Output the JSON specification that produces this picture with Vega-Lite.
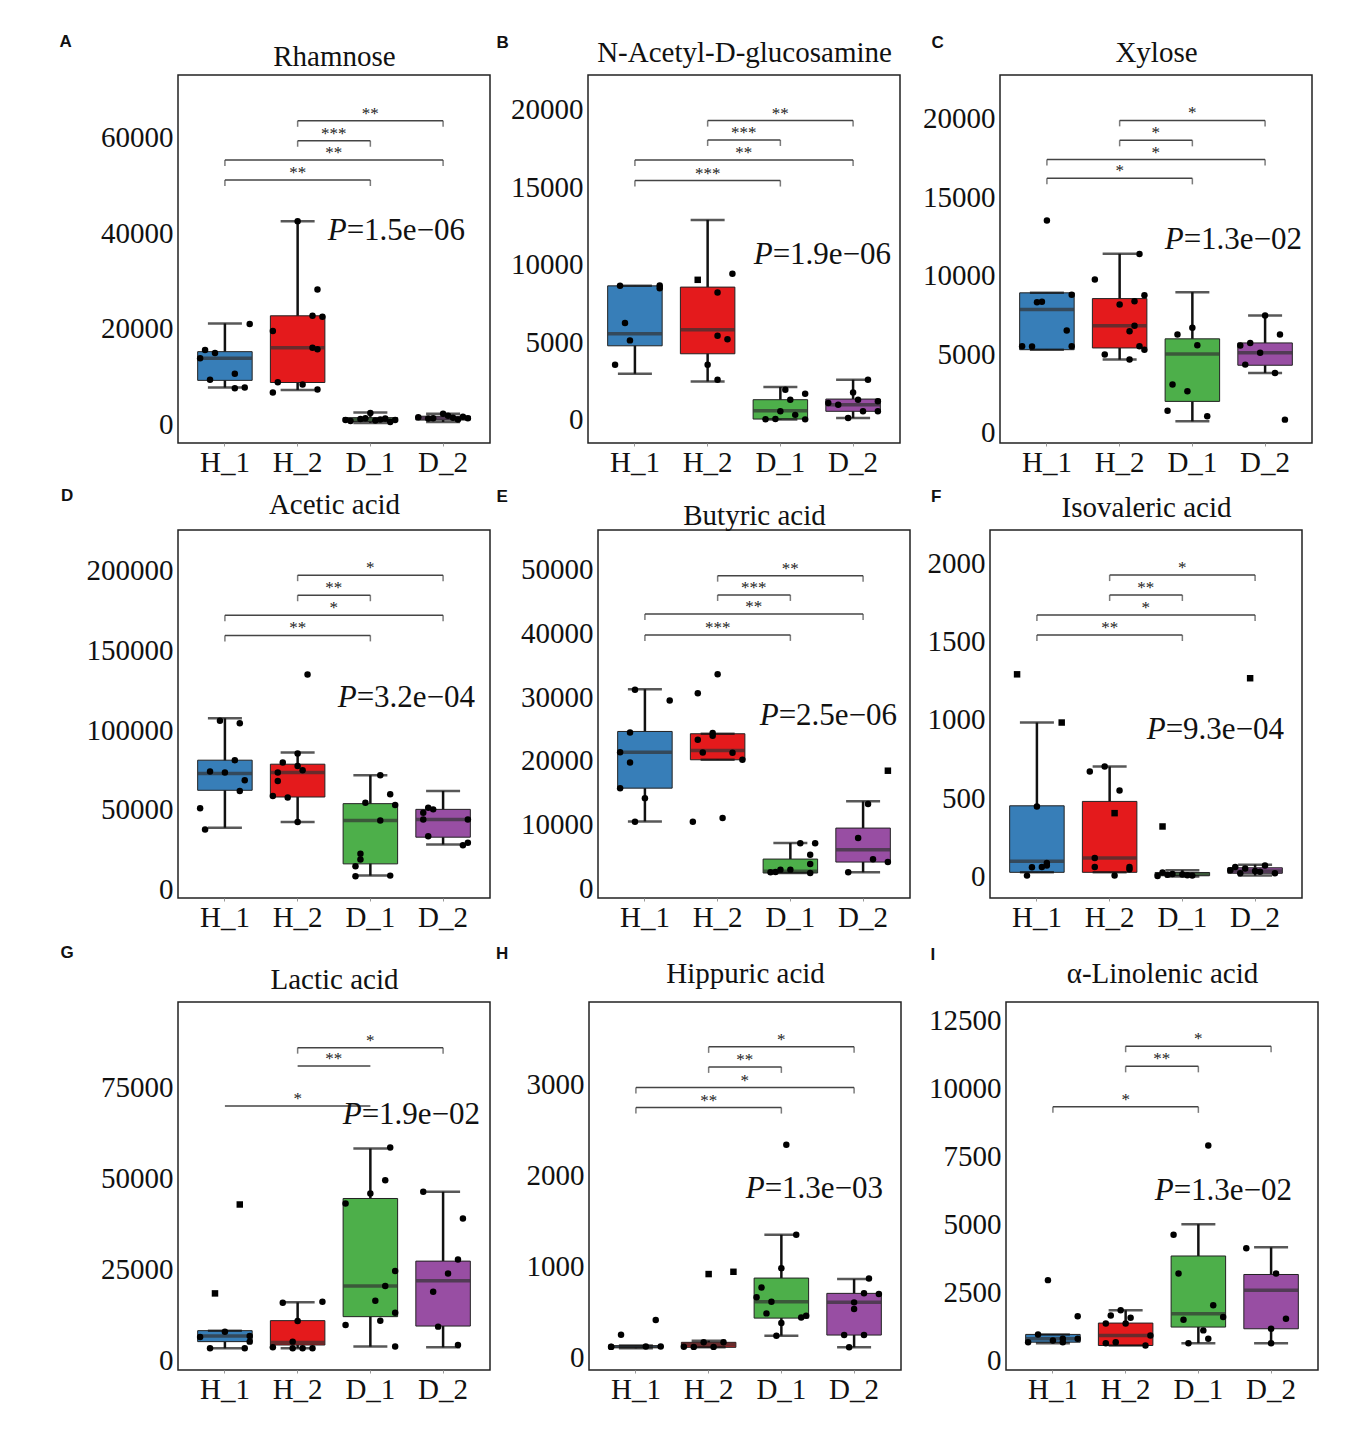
{
"$schema":"https://vega.github.io/schema/vega-lite/v6.json",
"padding":{"left":58,"top":32,"right":5,"bottom":5},
"background":"white",
"datasets":{
"box":[
{"p":"A","g":"H_1","lo":7700,"q1":9200,"md":13800,"q3":15200,"hi":21100},
{"p":"A","g":"H_2","lo":7200,"q1":8750,"md":16000,"q3":22700,"hi":42500},
{"p":"A","g":"D_1","lo":300,"q1":600,"md":1000,"q3":1400,"hi":2500},
{"p":"A","g":"D_2","lo":500,"q1":900,"md":1250,"q3":1700,"hi":2200},
{"p":"B","g":"H_1","lo":2955,"q1":4760,"md":5535,"q3":8630,"hi":8630},
{"p":"B","g":"H_2","lo":2460,"q1":4245,"md":5795,"q3":8550,"hi":12890},
{"p":"B","g":"D_1","lo":0,"q1":30,"md":570,"q3":1280,"hi":2100},
{"p":"B","g":"D_2","lo":100,"q1":530,"md":955,"q3":1320,"hi":2570},
{"p":"C","g":"H_1","lo":5300,"q1":5300,"md":7850,"q3":8917,"hi":8917},
{"p":"C","g":"H_2","lo":4670,"q1":5410,"md":6830,"q3":8550,"hi":11400},
{"p":"C","g":"D_1","lo":740,"q1":2010,"md":5030,"q3":5990,"hi":8960},
{"p":"C","g":"D_2","lo":3820,"q1":4310,"md":5100,"q3":5730,"hi":7470},
{"p":"D","g":"H_1","lo":38840,"q1":62320,"md":72830,"q3":81210,"hi":107460},
{"p":"D","g":"H_2","lo":42370,"q1":58110,"md":73460,"q3":78690,"hi":86050},
{"p":"D","g":"D_1","lo":8810,"q1":16180,"md":43440,"q3":53950,"hi":71770},
{"p":"D","g":"D_2","lo":28330,"q1":32920,"md":44070,"q3":50360,"hi":61880},
{"p":"E","g":"H_1","lo":10470,"q1":15700,"md":21360,"q3":24610,"hi":31250},
{"p":"E","g":"H_2","lo":20160,"q1":20160,"md":21620,"q3":24250,"hi":24250},
{"p":"E","g":"D_1","lo":2360,"q1":2360,"md":2620,"q3":4550,"hi":7070},
{"p":"E","g":"D_2","lo":2470,"q1":4080,"md":6030,"q3":9420,"hi":13620},
{"p":"F","g":"H_1","lo":26,"q1":26,"md":96,"q3":451,"hi":983},
{"p":"F","g":"H_2","lo":26,"q1":26,"md":117,"q3":479,"hi":702},
{"p":"F","g":"D_1","lo":0,"q1":5,"md":12,"q3":25,"hi":40},
{"p":"F","g":"D_2","lo":5,"q1":20,"md":35,"q3":55,"hi":75},
{"p":"G","g":"H_1","lo":3220,"q1":5060,"md":6600,"q3":8085,"hi":8085},
{"p":"G","g":"H_2","lo":3220,"q1":4130,"md":4790,"q3":10840,"hi":15870},
{"p":"G","g":"D_1","lo":3690,"q1":11940,"md":20350,"q3":44470,"hi":58220},
{"p":"G","g":"D_2","lo":3490,"q1":9350,"md":21840,"q3":27230,"hi":46310},
{"p":"H","g":"H_1","lo":100,"q1":110,"md":117,"q3":128,"hi":130},
{"p":"H","g":"H_2","lo":110,"q1":110,"md":139,"q3":165,"hi":183},
{"p":"H","g":"D_1","lo":238,"q1":431,"md":611,"q3":871,"hi":1347},
{"p":"H","g":"D_2","lo":110,"q1":245,"md":604,"q3":703,"hi":860},
{"p":"I","g":"H_1","lo":639,"q1":676,"md":798,"q3":961,"hi":961},
{"p":"I","g":"H_2","lo":554,"q1":554,"md":924,"q3":1378,"hi":1848},
{"p":"I","g":"D_1","lo":639,"q1":1231,"md":1722,"q3":3843,"hi":5011},
{"p":"I","g":"D_2","lo":639,"q1":1168,"md":2587,"q3":3163,"hi":4161}
],
"pts":[
{"p":"A","g":"H_1","i":1,"v":13800},{"p":"A","g":"H_1","i":2,"v":15560},{"p":"A","g":"H_1","i":3,"v":9310},{"p":"A","g":"H_1","i":4,"v":14900},{"p":"A","g":"H_1","i":8,"v":10560},{"p":"A","g":"H_1","i":8,"v":7570},{"p":"A","g":"H_1","i":10,"v":7710},{"p":"A","g":"H_1","i":11,"v":20970},
{"p":"A","g":"H_2","i":1,"v":19510},{"p":"A","g":"H_2","i":1,"v":6670},{"p":"A","g":"H_2","i":2,"v":8800},{"p":"A","g":"H_2","i":6,"v":42500},{"p":"A","g":"H_2","i":7,"v":8330},{"p":"A","g":"H_2","i":9,"v":16040},{"p":"A","g":"H_2","i":9,"v":22700},{"p":"A","g":"H_2","i":10,"v":28190},{"p":"A","g":"H_2","i":10,"v":15700},{"p":"A","g":"H_2","i":10,"v":7290},{"p":"A","g":"H_2","i":11,"v":22500},
{"p":"A","g":"D_1","i":1,"v":900},{"p":"A","g":"D_1","i":2,"v":700},{"p":"A","g":"D_1","i":4,"v":1100},{"p":"A","g":"D_1","i":5,"v":1300},{"p":"A","g":"D_1","i":6,"v":2400},{"p":"A","g":"D_1","i":7,"v":800},{"p":"A","g":"D_1","i":8,"v":1000},{"p":"A","g":"D_1","i":9,"v":1200},{"p":"A","g":"D_1","i":10,"v":500},{"p":"A","g":"D_1","i":11,"v":900},
{"p":"A","g":"D_2","i":1,"v":1500},{"p":"A","g":"D_2","i":3,"v":1200},{"p":"A","g":"D_2","i":4,"v":1300},{"p":"A","g":"D_2","i":6,"v":2200},{"p":"A","g":"D_2","i":7,"v":1800},{"p":"A","g":"D_2","i":8,"v":1400},{"p":"A","g":"D_2","i":9,"v":1000},{"p":"A","g":"D_2","i":10,"v":1600},{"p":"A","g":"D_2","i":11,"v":1300},
{"p":"B","g":"H_1","i":2,"v":3535},{"p":"B","g":"H_1","i":3,"v":8630},{"p":"B","g":"H_1","i":4,"v":6225},{"p":"B","g":"H_1","i":5,"v":5110},{"p":"B","g":"H_1","i":11,"v":8480},{"p":"B","g":"H_1","i":11,"v":8650},
{"p":"B","g":"H_2","i":4,"v":9020,"o":1},{"p":"B","g":"H_2","i":6,"v":3535},{"p":"B","g":"H_2","i":8,"v":8205},{"p":"B","g":"H_2","i":8,"v":5405},{"p":"B","g":"H_2","i":8,"v":2570},{"p":"B","g":"H_2","i":10,"v":5190},{"p":"B","g":"H_2","i":11,"v":9405},
{"p":"B","g":"D_1","i":3,"v":20},{"p":"B","g":"D_1","i":5,"v":30},{"p":"B","g":"D_1","i":6,"v":535},{"p":"B","g":"D_1","i":7,"v":1920},{"p":"B","g":"D_1","i":8,"v":1280},{"p":"B","g":"D_1","i":9,"v":300},{"p":"B","g":"D_1","i":11,"v":1660},{"p":"B","g":"D_1","i":11,"v":10},
{"p":"B","g":"D_2","i":1,"v":1070},{"p":"B","g":"D_2","i":3,"v":955},{"p":"B","g":"D_2","i":5,"v":100},{"p":"B","g":"D_2","i":6,"v":1750},{"p":"B","g":"D_2","i":7,"v":1280},{"p":"B","g":"D_2","i":8,"v":530},{"p":"B","g":"D_2","i":9,"v":2570},{"p":"B","g":"D_2","i":11,"v":1180},{"p":"B","g":"D_2","i":11,"v":530},
{"p":"C","g":"H_1","i":1,"v":5520},{"p":"C","g":"H_1","i":3,"v":5500},{"p":"C","g":"H_1","i":4,"v":8320},{"p":"C","g":"H_1","i":5,"v":8350},{"p":"C","g":"H_1","i":6,"v":13520},{"p":"C","g":"H_1","i":10,"v":6520},{"p":"C","g":"H_1","i":11,"v":5520},{"p":"C","g":"H_1","i":11,"v":8800},
{"p":"C","g":"H_2","i":1,"v":9770},{"p":"C","g":"H_2","i":3,"v":4990},{"p":"C","g":"H_2","i":6,"v":8180},{"p":"C","g":"H_2","i":8,"v":6470},{"p":"C","g":"H_2","i":8,"v":4670},{"p":"C","g":"H_2","i":9,"v":6830},{"p":"C","g":"H_2","i":9,"v":8380},{"p":"C","g":"H_2","i":10,"v":5520},{"p":"C","g":"H_2","i":10,"v":11390},{"p":"C","g":"H_2","i":11,"v":5300},{"p":"C","g":"H_2","i":11,"v":8770},
{"p":"C","g":"D_1","i":1,"v":1420},{"p":"C","g":"D_1","i":2,"v":3080},{"p":"C","g":"D_1","i":3,"v":6270},{"p":"C","g":"D_1","i":5,"v":2660},{"p":"C","g":"D_1","i":6,"v":6690},{"p":"C","g":"D_1","i":7,"v":5580},{"p":"C","g":"D_1","i":9,"v":1060},
{"p":"C","g":"D_2","i":1,"v":5560},{"p":"C","g":"D_2","i":2,"v":4350},{"p":"C","g":"D_2","i":3,"v":5730},{"p":"C","g":"D_2","i":5,"v":5100},{"p":"C","g":"D_2","i":6,"v":7470},{"p":"C","g":"D_2","i":8,"v":3820},{"p":"C","g":"D_2","i":9,"v":6270},{"p":"C","g":"D_2","i":10,"v":850},
{"p":"D","g":"H_1","i":1,"v":50990},{"p":"D","g":"H_1","i":2,"v":37770},{"p":"D","g":"H_1","i":3,"v":74100},{"p":"D","g":"H_1","i":5,"v":105960},{"p":"D","g":"H_1","i":6,"v":73460},{"p":"D","g":"H_1","i":8,"v":81210},{"p":"D","g":"H_1","i":9,"v":104310},{"p":"D","g":"H_1","i":9,"v":61880},{"p":"D","g":"H_1","i":10,"v":68620},
{"p":"D","g":"H_2","i":1,"v":58740},{"p":"D","g":"H_2","i":2,"v":73460},{"p":"D","g":"H_2","i":2,"v":68180},{"p":"D","g":"H_2","i":3,"v":79760},{"p":"D","g":"H_2","i":4,"v":57730},{"p":"D","g":"H_2","i":6,"v":42370},{"p":"D","g":"H_2","i":6,"v":85430},{"p":"D","g":"H_2","i":6,"v":77620},{"p":"D","g":"H_2","i":7,"v":74910},{"p":"D","g":"H_2","i":8,"v":134910},
{"p":"D","g":"D_1","i":3,"v":14670},{"p":"D","g":"D_1","i":3,"v":8370},{"p":"D","g":"D_1","i":4,"v":22470},{"p":"D","g":"D_1","i":4,"v":18890},{"p":"D","g":"D_1","i":5,"v":54580},{"p":"D","g":"D_1","i":8,"v":43440},{"p":"D","g":"D_1","i":8,"v":71770},{"p":"D","g":"D_1","i":10,"v":59800},{"p":"D","g":"D_1","i":10,"v":8810},{"p":"D","g":"D_1","i":11,"v":53070},
{"p":"D","g":"D_2","i":2,"v":44070},{"p":"D","g":"D_2","i":2,"v":48280},{"p":"D","g":"D_2","i":3,"v":33550},{"p":"D","g":"D_2","i":3,"v":51430},{"p":"D","g":"D_2","i":4,"v":50360},{"p":"D","g":"D_2","i":10,"v":27890},{"p":"D","g":"D_2","i":11,"v":44070},{"p":"D","g":"D_2","i":11,"v":29400},
{"p":"E","g":"H_1","i":1,"v":15700},{"p":"E","g":"H_1","i":1,"v":21360},{"p":"E","g":"H_1","i":3,"v":24450},{"p":"E","g":"H_1","i":3,"v":19740},{"p":"E","g":"H_1","i":4,"v":31160},{"p":"E","g":"H_1","i":4,"v":10410},{"p":"E","g":"H_1","i":6,"v":14130},{"p":"E","g":"H_1","i":11,"v":29480},
{"p":"E","g":"H_2","i":1,"v":10410},{"p":"E","g":"H_2","i":2,"v":30620},{"p":"E","g":"H_2","i":2,"v":23300},{"p":"E","g":"H_2","i":3,"v":21310},{"p":"E","g":"H_2","i":5,"v":23930},{"p":"E","g":"H_2","i":5,"v":24380},{"p":"E","g":"H_2","i":6,"v":33600},{"p":"E","g":"H_2","i":7,"v":10990},{"p":"E","g":"H_2","i":9,"v":21260},{"p":"E","g":"H_2","i":11,"v":20160},
{"p":"E","g":"D_1","i":2,"v":2470},{"p":"E","g":"D_1","i":3,"v":2520},{"p":"E","g":"D_1","i":4,"v":2890},{"p":"E","g":"D_1","i":6,"v":2890},{"p":"E","g":"D_1","i":8,"v":7020},{"p":"E","g":"D_1","i":10,"v":5240},{"p":"E","g":"D_1","i":10,"v":3770},{"p":"E","g":"D_1","i":10,"v":2360},{"p":"E","g":"D_1","i":11,"v":7020},
{"p":"E","g":"D_2","i":3,"v":2470},{"p":"E","g":"D_2","i":5,"v":7850},{"p":"E","g":"D_2","i":7,"v":13200},{"p":"E","g":"D_2","i":8,"v":4510},{"p":"E","g":"D_2","i":11,"v":18440,"o":1},{"p":"E","g":"D_2","i":11,"v":4080},
{"p":"F","g":"H_1","i":2,"v":1291,"o":1},{"p":"F","g":"H_1","i":4,"v":5},{"p":"F","g":"H_1","i":5,"v":59},{"p":"F","g":"H_1","i":6,"v":447},{"p":"F","g":"H_1","i":7,"v":60},{"p":"F","g":"H_1","i":8,"v":70},{"p":"F","g":"H_1","i":8,"v":85},{"p":"F","g":"H_1","i":11,"v":983,"o":1},
{"p":"F","g":"H_2","i":2,"v":670},{"p":"F","g":"H_2","i":3,"v":117},{"p":"F","g":"H_2","i":3,"v":60},{"p":"F","g":"H_2","i":5,"v":702},{"p":"F","g":"H_2","i":7,"v":404,"o":1},{"p":"F","g":"H_2","i":7,"v":6},{"p":"F","g":"H_2","i":8,"v":549},{"p":"F","g":"H_2","i":10,"v":60},{"p":"F","g":"H_2","i":10,"v":45},
{"p":"F","g":"D_1","i":1,"v":3},{"p":"F","g":"D_1","i":2,"v":25},{"p":"F","g":"D_1","i":2,"v":319,"o":1},{"p":"F","g":"D_1","i":3,"v":10},{"p":"F","g":"D_1","i":4,"v":15},{"p":"F","g":"D_1","i":6,"v":12},{"p":"F","g":"D_1","i":7,"v":8},{"p":"F","g":"D_1","i":8,"v":5},
{"p":"F","g":"D_2","i":1,"v":40},{"p":"F","g":"D_2","i":2,"v":60},{"p":"F","g":"D_2","i":3,"v":20},{"p":"F","g":"D_2","i":4,"v":50},{"p":"F","g":"D_2","i":5,"v":1266,"o":1},{"p":"F","g":"D_2","i":6,"v":35},{"p":"F","g":"D_2","i":7,"v":30},{"p":"F","g":"D_2","i":8,"v":70},{"p":"F","g":"D_2","i":10,"v":20},
{"p":"G","g":"H_1","i":1,"v":6330},{"p":"G","g":"H_1","i":3,"v":3220},{"p":"G","g":"H_1","i":4,"v":18340,"o":1},{"p":"G","g":"H_1","i":6,"v":7810},{"p":"G","g":"H_1","i":9,"v":42820,"o":1},{"p":"G","g":"H_1","i":10,"v":3220},{"p":"G","g":"H_1","i":11,"v":5060},{"p":"G","g":"H_1","i":11,"v":6600},
{"p":"G","g":"H_2","i":1,"v":3490},{"p":"G","g":"H_2","i":3,"v":15780},{"p":"G","g":"H_2","i":5,"v":3220},{"p":"G","g":"H_2","i":5,"v":5060},{"p":"G","g":"H_2","i":6,"v":10750},{"p":"G","g":"H_2","i":7,"v":3220},{"p":"G","g":"H_2","i":9,"v":3220},{"p":"G","g":"H_2","i":11,"v":16050},
{"p":"G","g":"D_1","i":1,"v":9630},{"p":"G","g":"D_1","i":1,"v":43090},{"p":"G","g":"D_1","i":6,"v":45840},{"p":"G","g":"D_1","i":7,"v":16330},{"p":"G","g":"D_1","i":8,"v":10840},{"p":"G","g":"D_1","i":9,"v":49500},{"p":"G","g":"D_1","i":9,"v":20350},{"p":"G","g":"D_1","i":10,"v":58500},{"p":"G","g":"D_1","i":11,"v":13040},{"p":"G","g":"D_1","i":11,"v":3690},{"p":"G","g":"D_1","i":11,"v":24480},
{"p":"G","g":"D_2","i":2,"v":46310},{"p":"G","g":"D_2","i":4,"v":18810},{"p":"G","g":"D_2","i":5,"v":9190},{"p":"G","g":"D_2","i":7,"v":23840},{"p":"G","g":"D_2","i":9,"v":27690},{"p":"G","g":"D_2","i":9,"v":4130},{"p":"G","g":"D_2","i":10,"v":38970},
{"p":"H","g":"H_1","i":1,"v":117},{"p":"H","g":"H_1","i":1,"v":115},{"p":"H","g":"H_1","i":3,"v":249},{"p":"H","g":"H_1","i":8,"v":120},{"p":"H","g":"H_1","i":10,"v":410},{"p":"H","g":"H_1","i":11,"v":118},
{"p":"H","g":"H_2","i":1,"v":117},{"p":"H","g":"H_2","i":3,"v":115},{"p":"H","g":"H_2","i":5,"v":165},{"p":"H","g":"H_2","i":6,"v":915,"o":1},{"p":"H","g":"H_2","i":7,"v":115},{"p":"H","g":"H_2","i":9,"v":165},{"p":"H","g":"H_2","i":11,"v":940,"o":1},
{"p":"H","g":"D_1","i":1,"v":659},{"p":"H","g":"D_1","i":2,"v":768},{"p":"H","g":"D_1","i":3,"v":483},{"p":"H","g":"D_1","i":4,"v":611},{"p":"H","g":"D_1","i":5,"v":238},{"p":"H","g":"D_1","i":6,"v":377},{"p":"H","g":"D_1","i":6,"v":980},{"p":"H","g":"D_1","i":7,"v":2335},{"p":"H","g":"D_1","i":9,"v":1347},{"p":"H","g":"D_1","i":10,"v":439},{"p":"H","g":"D_1","i":11,"v":458},
{"p":"H","g":"D_2","i":4,"v":245},{"p":"H","g":"D_2","i":5,"v":110},{"p":"H","g":"D_2","i":6,"v":604},{"p":"H","g":"D_2","i":6,"v":530},{"p":"H","g":"D_2","i":8,"v":703},{"p":"H","g":"D_2","i":8,"v":245},{"p":"H","g":"D_2","i":9,"v":867},{"p":"H","g":"D_2","i":11,"v":695},
{"p":"I","g":"H_1","i":1,"v":676},{"p":"I","g":"H_1","i":3,"v":961},{"p":"I","g":"H_1","i":5,"v":2956},{"p":"I","g":"H_1","i":6,"v":735},{"p":"I","g":"H_1","i":8,"v":798},{"p":"I","g":"H_1","i":8,"v":676},{"p":"I","g":"H_1","i":11,"v":1626},{"p":"I","g":"H_1","i":11,"v":798},
{"p":"I","g":"H_2","i":2,"v":1361},{"p":"I","g":"H_2","i":2,"v":639},{"p":"I","g":"H_2","i":3,"v":1655},{"p":"I","g":"H_2","i":4,"v":676},{"p":"I","g":"H_2","i":5,"v":1848},{"p":"I","g":"H_2","i":6,"v":1361},{"p":"I","g":"H_2","i":7,"v":1570},{"p":"I","g":"H_2","i":10,"v":554},{"p":"I","g":"H_2","i":11,"v":924},
{"p":"I","g":"D_1","i":1,"v":4620},{"p":"I","g":"D_1","i":2,"v":3201},{"p":"I","g":"D_1","i":3,"v":1500},{"p":"I","g":"D_1","i":4,"v":639},{"p":"I","g":"D_1","i":7,"v":1109},{"p":"I","g":"D_1","i":8,"v":798},{"p":"I","g":"D_1","i":8,"v":7908},{"p":"I","g":"D_1","i":9,"v":2033},{"p":"I","g":"D_1","i":11,"v":1601},
{"p":"I","g":"D_2","i":1,"v":4124},{"p":"I","g":"D_2","i":6,"v":639},{"p":"I","g":"D_2","i":6,"v":1168},{"p":"I","g":"D_2","i":7,"v":3201},{"p":"I","g":"D_2","i":9,"v":1537}
],
"br":[
{"p":"A","a":"H_1","b":"D_1","y":51100,"s":"**"},{"p":"A","a":"H_1","b":"D_2","y":55270,"s":"**"},{"p":"A","a":"H_2","b":"D_1","y":59310,"s":"***"},{"p":"A","a":"H_2","b":"D_2","y":63480,"s":"**"},
{"p":"B","a":"H_1","b":"D_1","y":15430,"s":"***"},{"p":"B","a":"H_1","b":"D_2","y":16760,"s":"**"},{"p":"B","a":"H_2","b":"D_1","y":18050,"s":"***"},{"p":"B","a":"H_2","b":"D_2","y":19300,"s":"**"},
{"p":"C","a":"H_1","b":"D_1","y":16200,"s":"*"},{"p":"C","a":"H_1","b":"D_2","y":17400,"s":"*"},{"p":"C","a":"H_2","b":"D_1","y":18620,"s":"*"},{"p":"C","a":"H_2","b":"D_2","y":19890,"s":"*"},
{"p":"D","a":"H_1","b":"D_1","y":159460,"s":"**"},{"p":"D","a":"H_1","b":"D_2","y":172050,"s":"*"},{"p":"D","a":"H_2","b":"D_1","y":184640,"s":"**"},{"p":"D","a":"H_2","b":"D_2","y":197230,"s":"*"},
{"p":"E","a":"H_1","b":"D_1","y":39790,"s":"***"},{"p":"E","a":"H_1","b":"D_2","y":43090,"s":"**"},{"p":"E","a":"H_2","b":"D_1","y":46070,"s":"***"},{"p":"E","a":"H_2","b":"D_2","y":49100,"s":"**"},
{"p":"F","a":"H_1","b":"D_1","y":1542,"s":"**"},{"p":"F","a":"H_1","b":"D_2","y":1670,"s":"*"},{"p":"F","a":"H_2","b":"D_1","y":1798,"s":"**"},{"p":"F","a":"H_2","b":"D_2","y":1925,"s":"*"},
{"p":"G","a":"H_1","b":"D_1","y":69970,"s":"*","cap":0},{"p":"G","a":"H_2","b":"D_1","y":80960,"s":"**","cap":0},{"p":"G","a":"H_2","b":"D_2","y":86000,"s":"*"},
{"p":"H","a":"H_1","b":"D_1","y":2744,"s":"**"},{"p":"H","a":"H_1","b":"D_2","y":2964,"s":"*"},{"p":"H","a":"H_2","b":"D_1","y":3191,"s":"**"},{"p":"H","a":"H_2","b":"D_2","y":3411,"s":"*"},
{"p":"I","a":"H_1","b":"D_1","y":9324,"s":"*"},{"p":"I","a":"H_2","b":"D_1","y":10813,"s":"**"},{"p":"I","a":"H_2","b":"D_2","y":11552,"s":"*"}
],
"pv":[
{"p":"A","y":38480,"t":"=1.5e−06"},{"p":"B","y":10050,"t":"=1.9e−06"},{"p":"C","y":11675,"t":"=1.3e−02"},
{"p":"D","y":114390,"t":"=3.2e−04"},{"p":"E","y":25660,"t":"=2.5e−06"},{"p":"F","y":876,"t":"=9.3e−04"},
{"p":"G","y":64900,"t":"=1.9e−02"},{"p":"H","y":1756,"t":"=1.3e−03"},{"p":"I","y":5913,"t":"=1.3e−02"}
]
},
"resolve":{"scale":{"x":"independent","y":"independent"}},
"spacing":10,
"vconcat":[
{"spacing":8,"resolve":{"scale":{"x":"independent","y":"independent"}},"vconcat":[
{"spacing":20,"resolve":{"scale":{"x":"independent","y":"independent"}},"hconcat":[
{"spacing":4,"resolve":{"scale":{"x":"independent","y":"independent"}},"hconcat":[
{"width":312,"height":368,"title":{"text":"A","dx":-41,"dy":13},"layer":[
{"data":{"name":"box"},"transform":[{"filter":"datum.p=='A'"}],"mark":{"type":"rule","color":"#111","strokeWidth":2.5},"encoding":{"x":{"field":"g","type":"nominal","scale":{"domain":["H_1","H_2","D_1","D_2"],"paddingInner":0.25,"paddingOuter":0.27},"title":null},"y":{"field":"lo","type":"quantitative","scale":{"domain":[-3900,73060],"nice":false},"title":"Rhamnose","axis":{"values":[0,20000,40000,60000],"format":"d","titleY":-10}},"y2":{"field":"hi"}}},
{"data":{"name":"box"},"transform":[{"filter":"datum.p=='A'"}],"mark":{"type":"bar","stroke":"#222","strokeWidth":1,"width":54.5},"encoding":{"x":{"field":"g","type":"nominal","scale":{"domain":["H_1","H_2","D_1","D_2"],"paddingInner":0.25,"paddingOuter":0.27},"title":null},"y":{"field":"q1","type":"quantitative","scale":{"domain":[-3900,73060],"nice":false},"title":"Rhamnose"},"y2":{"field":"q3"},"color":{"field":"g","type":"nominal","scale":{"domain":["H_1","H_2","D_1","D_2"],"range":["#377eb8","#e41a1c","#4daf4a","#984ea3"]},"legend":null}}},
{"data":{"name":"box"},"transform":[{"filter":"datum.p=='A'"}],"mark":{"type":"tick","color":"#333","thickness":3.5,"size":54},"encoding":{"x":{"field":"g","type":"nominal","scale":{"domain":["H_1","H_2","D_1","D_2"],"paddingInner":0.25,"paddingOuter":0.27},"title":null},"y":{"field":"md","type":"quantitative","scale":{"domain":[-3900,73060],"nice":false},"title":"Rhamnose"}}},
{"data":{"name":"box"},"transform":[{"filter":"datum.p=='A'"},{"fold":["lo","hi"]}],"mark":{"type":"tick","color":"#111","thickness":2.5,"size":34},"encoding":{"x":{"field":"g","type":"nominal","scale":{"domain":["H_1","H_2","D_1","D_2"],"paddingInner":0.25,"paddingOuter":0.27},"title":null},"y":{"field":"value","type":"quantitative","scale":{"domain":[-3900,73060],"nice":false},"title":"Rhamnose"}}},
{"data":{"name":"pts"},"transform":[{"filter":"datum.p=='A'"}],"mark":{"type":"point","filled":true,"color":"#000","opacity":1,"size":42},"encoding":{"x":{"field":"g","type":"nominal","scale":{"domain":["H_1","H_2","D_1","D_2"],"paddingInner":0.25,"paddingOuter":0.27},"title":null},"xOffset":{"field":"i","type":"nominal","scale":{"domain":[1,2,3,4,5,6,7,8,9,10,11]}},"y":{"field":"v","type":"quantitative","scale":{"domain":[-3900,73060],"nice":false},"title":"Rhamnose"},"shape":{"condition":{"test":"datum.o==1","value":"square"},"value":"circle"}}},
{"data":{"name":"br"},"transform":[{"filter":"datum.p=='A'"}],"mark":{"type":"rule","color":"#444","strokeWidth":1.5},"encoding":{"x":{"field":"a","type":"nominal","scale":{"domain":["H_1","H_2","D_1","D_2"],"paddingInner":0.25,"paddingOuter":0.27},"title":null},"x2":{"field":"b"},"y":{"field":"y","type":"quantitative","scale":{"domain":[-3900,73060],"nice":false},"title":"Rhamnose"}}},
{"data":{"name":"br"},"transform":[{"filter":"datum.p=='A'&&datum.cap!==0"},{"fold":["a","b"],"as":["end","grp"]}],"mark":{"type":"tick","orient":"vertical","size":6,"thickness":1.5,"yOffset":3,"color":"#444"},"encoding":{"x":{"field":"grp","type":"nominal","scale":{"domain":["H_1","H_2","D_1","D_2"],"paddingInner":0.25,"paddingOuter":0.27},"title":null},"y":{"field":"y","type":"quantitative","scale":{"domain":[-3900,73060],"nice":false},"title":"Rhamnose"}}},
{"data":{"name":"br"},"transform":[{"filter":"datum.p=='A'&&datum.a=='H_1'&&datum.b=='D_1'"}],"mark":{"type":"text","font":"Liberation Serif","fontSize":17,"color":"#222","baseline":"alphabetic","dy":-2},"encoding":{"x":{"datum":"H_2","type":"nominal","scale":{"domain":["H_1","H_2","D_1","D_2"],"paddingInner":0.25,"paddingOuter":0.27},"title":null},"y":{"field":"y","type":"quantitative","scale":{"domain":[-3900,73060],"nice":false},"title":"Rhamnose"},"text":{"field":"s"}}},
{"data":{"name":"br"},"transform":[{"filter":"datum.p=='A'&&datum.a=='H_2'&&datum.b=='D_2'"}],"mark":{"type":"text","font":"Liberation Serif","fontSize":17,"color":"#222","baseline":"alphabetic","dy":-2},"encoding":{"x":{"datum":"D_1","type":"nominal","scale":{"domain":["H_1","H_2","D_1","D_2"],"paddingInner":0.25,"paddingOuter":0.27},"title":null},"y":{"field":"y","type":"quantitative","scale":{"domain":[-3900,73060],"nice":false},"title":"Rhamnose"},"text":{"field":"s"}}},
{"data":{"name":"br"},"transform":[{"filter":"datum.p=='A'&&((datum.a=='H_1'&&datum.b=='D_2')||(datum.a=='H_2'&&datum.b=='D_1'))"}],"mark":{"type":"text","font":"Liberation Serif","fontSize":17,"color":"#222","baseline":"alphabetic","dy":-2,"dx":36},"encoding":{"x":{"datum":"H_2","type":"nominal","scale":{"domain":["H_1","H_2","D_1","D_2"],"paddingInner":0.25,"paddingOuter":0.27},"title":null},"y":{"field":"y","type":"quantitative","scale":{"domain":[-3900,73060],"nice":false},"title":"Rhamnose"},"text":{"field":"s"}}},
{"data":{"name":"pv"},"transform":[{"filter":"datum.p=='A'"}],"mark":{"type":"text","font":"Liberation Serif","fontSize":31,"fontStyle":"italic","align":"left","baseline":"alphabetic","dx":30,"color":"#111"},"encoding":{"x":{"datum":"H_2","type":"nominal","scale":{"domain":["H_1","H_2","D_1","D_2"],"paddingInner":0.25,"paddingOuter":0.27},"title":null},"y":{"field":"y","type":"quantitative","scale":{"domain":[-3900,73060],"nice":false},"title":"Rhamnose"},"text":{"value":"P"}}},
{"data":{"name":"pv"},"transform":[{"filter":"datum.p=='A'"}],"mark":{"type":"text","font":"Liberation Serif","fontSize":31,"align":"left","baseline":"alphabetic","dx":49,"color":"#111"},"encoding":{"x":{"datum":"H_2","type":"nominal","scale":{"domain":["H_1","H_2","D_1","D_2"],"paddingInner":0.25,"paddingOuter":0.27},"title":null},"y":{"field":"y","type":"quantitative","scale":{"domain":[-3900,73060],"nice":false},"title":"Rhamnose"},"text":{"field":"t"}}}
]},
{"width":312,"height":368,"title":{"text":"B","dx":-14,"dy":18},"layer":[
{"data":{"name":"box"},"transform":[{"filter":"datum.p=='B'"}],"mark":{"type":"rule","color":"#111","strokeWidth":2.5},"encoding":{"x":{"field":"g","type":"nominal","scale":{"domain":["H_1","H_2","D_1","D_2"],"paddingInner":0.25,"paddingOuter":0.27},"title":null},"y":{"field":"lo","type":"quantitative","scale":{"domain":[-1516,22245],"nice":false},"title":"N-Acetyl-D-glucosamine","axis":{"values":[0,5000,10000,15000,20000],"format":"d","titleY":-14}},"y2":{"field":"hi"}}},
{"data":{"name":"box"},"transform":[{"filter":"datum.p=='B'"}],"mark":{"type":"bar","stroke":"#222","strokeWidth":1,"width":54.5},"encoding":{"x":{"field":"g","type":"nominal","scale":{"domain":["H_1","H_2","D_1","D_2"],"paddingInner":0.25,"paddingOuter":0.27},"title":null},"y":{"field":"q1","type":"quantitative","scale":{"domain":[-1516,22245],"nice":false},"title":"N-Acetyl-D-glucosamine"},"y2":{"field":"q3"},"color":{"field":"g","type":"nominal","scale":{"domain":["H_1","H_2","D_1","D_2"],"range":["#377eb8","#e41a1c","#4daf4a","#984ea3"]},"legend":null}}},
{"data":{"name":"box"},"transform":[{"filter":"datum.p=='B'"}],"mark":{"type":"tick","color":"#333","thickness":3.5,"size":54},"encoding":{"x":{"field":"g","type":"nominal","scale":{"domain":["H_1","H_2","D_1","D_2"],"paddingInner":0.25,"paddingOuter":0.27},"title":null},"y":{"field":"md","type":"quantitative","scale":{"domain":[-1516,22245],"nice":false},"title":"N-Acetyl-D-glucosamine"}}},
{"data":{"name":"box"},"transform":[{"filter":"datum.p=='B'"},{"fold":["lo","hi"]}],"mark":{"type":"tick","color":"#111","thickness":2.5,"size":34},"encoding":{"x":{"field":"g","type":"nominal","scale":{"domain":["H_1","H_2","D_1","D_2"],"paddingInner":0.25,"paddingOuter":0.27},"title":null},"y":{"field":"value","type":"quantitative","scale":{"domain":[-1516,22245],"nice":false},"title":"N-Acetyl-D-glucosamine"}}},
{"data":{"name":"pts"},"transform":[{"filter":"datum.p=='B'"}],"mark":{"type":"point","filled":true,"color":"#000","opacity":1,"size":42},"encoding":{"x":{"field":"g","type":"nominal","scale":{"domain":["H_1","H_2","D_1","D_2"],"paddingInner":0.25,"paddingOuter":0.27},"title":null},"xOffset":{"field":"i","type":"nominal","scale":{"domain":[1,2,3,4,5,6,7,8,9,10,11]}},"y":{"field":"v","type":"quantitative","scale":{"domain":[-1516,22245],"nice":false},"title":"N-Acetyl-D-glucosamine"},"shape":{"condition":{"test":"datum.o==1","value":"square"},"value":"circle"}}},
{"data":{"name":"br"},"transform":[{"filter":"datum.p=='B'"}],"mark":{"type":"rule","color":"#444","strokeWidth":1.5},"encoding":{"x":{"field":"a","type":"nominal","scale":{"domain":["H_1","H_2","D_1","D_2"],"paddingInner":0.25,"paddingOuter":0.27},"title":null},"x2":{"field":"b"},"y":{"field":"y","type":"quantitative","scale":{"domain":[-1516,22245],"nice":false},"title":"N-Acetyl-D-glucosamine"}}},
{"data":{"name":"br"},"transform":[{"filter":"datum.p=='B'&&datum.cap!==0"},{"fold":["a","b"],"as":["end","grp"]}],"mark":{"type":"tick","orient":"vertical","size":6,"thickness":1.5,"yOffset":3,"color":"#444"},"encoding":{"x":{"field":"grp","type":"nominal","scale":{"domain":["H_1","H_2","D_1","D_2"],"paddingInner":0.25,"paddingOuter":0.27},"title":null},"y":{"field":"y","type":"quantitative","scale":{"domain":[-1516,22245],"nice":false},"title":"N-Acetyl-D-glucosamine"}}},
{"data":{"name":"br"},"transform":[{"filter":"datum.p=='B'&&datum.a=='H_1'&&datum.b=='D_1'"}],"mark":{"type":"text","font":"Liberation Serif","fontSize":17,"color":"#222","baseline":"alphabetic","dy":-2},"encoding":{"x":{"datum":"H_2","type":"nominal","scale":{"domain":["H_1","H_2","D_1","D_2"],"paddingInner":0.25,"paddingOuter":0.27},"title":null},"y":{"field":"y","type":"quantitative","scale":{"domain":[-1516,22245],"nice":false},"title":"N-Acetyl-D-glucosamine"},"text":{"field":"s"}}},
{"data":{"name":"br"},"transform":[{"filter":"datum.p=='B'&&datum.a=='H_2'&&datum.b=='D_2'"}],"mark":{"type":"text","font":"Liberation Serif","fontSize":17,"color":"#222","baseline":"alphabetic","dy":-2},"encoding":{"x":{"datum":"D_1","type":"nominal","scale":{"domain":["H_1","H_2","D_1","D_2"],"paddingInner":0.25,"paddingOuter":0.27},"title":null},"y":{"field":"y","type":"quantitative","scale":{"domain":[-1516,22245],"nice":false},"title":"N-Acetyl-D-glucosamine"},"text":{"field":"s"}}},
{"data":{"name":"br"},"transform":[{"filter":"datum.p=='B'&&((datum.a=='H_1'&&datum.b=='D_2')||(datum.a=='H_2'&&datum.b=='D_1'))"}],"mark":{"type":"text","font":"Liberation Serif","fontSize":17,"color":"#222","baseline":"alphabetic","dy":-2,"dx":36},"encoding":{"x":{"datum":"H_2","type":"nominal","scale":{"domain":["H_1","H_2","D_1","D_2"],"paddingInner":0.25,"paddingOuter":0.27},"title":null},"y":{"field":"y","type":"quantitative","scale":{"domain":[-1516,22245],"nice":false},"title":"N-Acetyl-D-glucosamine"},"text":{"field":"s"}}},
{"data":{"name":"pv"},"transform":[{"filter":"datum.p=='B'"}],"mark":{"type":"text","font":"Liberation Serif","fontSize":31,"fontStyle":"italic","align":"left","baseline":"alphabetic","dx":46,"color":"#111"},"encoding":{"x":{"datum":"H_2","type":"nominal","scale":{"domain":["H_1","H_2","D_1","D_2"],"paddingInner":0.25,"paddingOuter":0.27},"title":null},"y":{"field":"y","type":"quantitative","scale":{"domain":[-1516,22245],"nice":false},"title":"N-Acetyl-D-glucosamine"},"text":{"value":"P"}}},
{"data":{"name":"pv"},"transform":[{"filter":"datum.p=='B'"}],"mark":{"type":"text","font":"Liberation Serif","fontSize":31,"align":"left","baseline":"alphabetic","dx":65,"color":"#111"},"encoding":{"x":{"datum":"H_2","type":"nominal","scale":{"domain":["H_1","H_2","D_1","D_2"],"paddingInner":0.25,"paddingOuter":0.27},"title":null},"y":{"field":"y","type":"quantitative","scale":{"domain":[-1516,22245],"nice":false},"title":"N-Acetyl-D-glucosamine"},"text":{"field":"t"}}}
]}
]},
{"width":312,"height":368,"title":{"text":"C","dx":9,"dy":18},"layer":[
{"data":{"name":"box"},"transform":[{"filter":"datum.p=='C'"}],"mark":{"type":"rule","color":"#111","strokeWidth":2.5},"encoding":{"x":{"field":"g","type":"nominal","scale":{"domain":["H_1","H_2","D_1","D_2"],"paddingInner":0.25,"paddingOuter":0.27},"title":null},"y":{"field":"lo","type":"quantitative","scale":{"domain":[-637,22777],"nice":false},"title":"Xylose","axis":{"values":[0,5000,10000,15000,20000],"format":"d","titleY":-14}},"y2":{"field":"hi"}}},
{"data":{"name":"box"},"transform":[{"filter":"datum.p=='C'"}],"mark":{"type":"bar","stroke":"#222","strokeWidth":1,"width":54.5},"encoding":{"x":{"field":"g","type":"nominal","scale":{"domain":["H_1","H_2","D_1","D_2"],"paddingInner":0.25,"paddingOuter":0.27},"title":null},"y":{"field":"q1","type":"quantitative","scale":{"domain":[-637,22777],"nice":false},"title":"Xylose"},"y2":{"field":"q3"},"color":{"field":"g","type":"nominal","scale":{"domain":["H_1","H_2","D_1","D_2"],"range":["#377eb8","#e41a1c","#4daf4a","#984ea3"]},"legend":null}}},
{"data":{"name":"box"},"transform":[{"filter":"datum.p=='C'"}],"mark":{"type":"tick","color":"#333","thickness":3.5,"size":54},"encoding":{"x":{"field":"g","type":"nominal","scale":{"domain":["H_1","H_2","D_1","D_2"],"paddingInner":0.25,"paddingOuter":0.27},"title":null},"y":{"field":"md","type":"quantitative","scale":{"domain":[-637,22777],"nice":false},"title":"Xylose"}}},
{"data":{"name":"box"},"transform":[{"filter":"datum.p=='C'"},{"fold":["lo","hi"]}],"mark":{"type":"tick","color":"#111","thickness":2.5,"size":34},"encoding":{"x":{"field":"g","type":"nominal","scale":{"domain":["H_1","H_2","D_1","D_2"],"paddingInner":0.25,"paddingOuter":0.27},"title":null},"y":{"field":"value","type":"quantitative","scale":{"domain":[-637,22777],"nice":false},"title":"Xylose"}}},
{"data":{"name":"pts"},"transform":[{"filter":"datum.p=='C'"}],"mark":{"type":"point","filled":true,"color":"#000","opacity":1,"size":42},"encoding":{"x":{"field":"g","type":"nominal","scale":{"domain":["H_1","H_2","D_1","D_2"],"paddingInner":0.25,"paddingOuter":0.27},"title":null},"xOffset":{"field":"i","type":"nominal","scale":{"domain":[1,2,3,4,5,6,7,8,9,10,11]}},"y":{"field":"v","type":"quantitative","scale":{"domain":[-637,22777],"nice":false},"title":"Xylose"},"shape":{"condition":{"test":"datum.o==1","value":"square"},"value":"circle"}}},
{"data":{"name":"br"},"transform":[{"filter":"datum.p=='C'"}],"mark":{"type":"rule","color":"#444","strokeWidth":1.5},"encoding":{"x":{"field":"a","type":"nominal","scale":{"domain":["H_1","H_2","D_1","D_2"],"paddingInner":0.25,"paddingOuter":0.27},"title":null},"x2":{"field":"b"},"y":{"field":"y","type":"quantitative","scale":{"domain":[-637,22777],"nice":false},"title":"Xylose"}}},
{"data":{"name":"br"},"transform":[{"filter":"datum.p=='C'&&datum.cap!==0"},{"fold":["a","b"],"as":["end","grp"]}],"mark":{"type":"tick","orient":"vertical","size":6,"thickness":1.5,"yOffset":3,"color":"#444"},"encoding":{"x":{"field":"grp","type":"nominal","scale":{"domain":["H_1","H_2","D_1","D_2"],"paddingInner":0.25,"paddingOuter":0.27},"title":null},"y":{"field":"y","type":"quantitative","scale":{"domain":[-637,22777],"nice":false},"title":"Xylose"}}},
{"data":{"name":"br"},"transform":[{"filter":"datum.p=='C'&&datum.a=='H_1'&&datum.b=='D_1'"}],"mark":{"type":"text","font":"Liberation Serif","fontSize":17,"color":"#222","baseline":"alphabetic","dy":-2},"encoding":{"x":{"datum":"H_2","type":"nominal","scale":{"domain":["H_1","H_2","D_1","D_2"],"paddingInner":0.25,"paddingOuter":0.27},"title":null},"y":{"field":"y","type":"quantitative","scale":{"domain":[-637,22777],"nice":false},"title":"Xylose"},"text":{"field":"s"}}},
{"data":{"name":"br"},"transform":[{"filter":"datum.p=='C'&&datum.a=='H_2'&&datum.b=='D_2'"}],"mark":{"type":"text","font":"Liberation Serif","fontSize":17,"color":"#222","baseline":"alphabetic","dy":-2},"encoding":{"x":{"datum":"D_1","type":"nominal","scale":{"domain":["H_1","H_2","D_1","D_2"],"paddingInner":0.25,"paddingOuter":0.27},"title":null},"y":{"field":"y","type":"quantitative","scale":{"domain":[-637,22777],"nice":false},"title":"Xylose"},"text":{"field":"s"}}},
{"data":{"name":"br"},"transform":[{"filter":"datum.p=='C'&&((datum.a=='H_1'&&datum.b=='D_2')||(datum.a=='H_2'&&datum.b=='D_1'))"}],"mark":{"type":"text","font":"Liberation Serif","fontSize":17,"color":"#222","baseline":"alphabetic","dy":-2,"dx":36},"encoding":{"x":{"datum":"H_2","type":"nominal","scale":{"domain":["H_1","H_2","D_1","D_2"],"paddingInner":0.25,"paddingOuter":0.27},"title":null},"y":{"field":"y","type":"quantitative","scale":{"domain":[-637,22777],"nice":false},"title":"Xylose"},"text":{"field":"s"}}},
{"data":{"name":"pv"},"transform":[{"filter":"datum.p=='C'"}],"mark":{"type":"text","font":"Liberation Serif","fontSize":31,"fontStyle":"italic","align":"left","baseline":"alphabetic","dx":45,"color":"#111"},"encoding":{"x":{"datum":"H_2","type":"nominal","scale":{"domain":["H_1","H_2","D_1","D_2"],"paddingInner":0.25,"paddingOuter":0.27},"title":null},"y":{"field":"y","type":"quantitative","scale":{"domain":[-637,22777],"nice":false},"title":"Xylose"},"text":{"value":"P"}}},
{"data":{"name":"pv"},"transform":[{"filter":"datum.p=='C'"}],"mark":{"type":"text","font":"Liberation Serif","fontSize":31,"align":"left","baseline":"alphabetic","dx":64,"color":"#111"},"encoding":{"x":{"datum":"H_2","type":"nominal","scale":{"domain":["H_1","H_2","D_1","D_2"],"paddingInner":0.25,"paddingOuter":0.27},"title":null},"y":{"field":"y","type":"quantitative","scale":{"domain":[-637,22777],"nice":false},"title":"Xylose"},"text":{"field":"t"}}}
]}
]},
{"spacing":15,"resolve":{"scale":{"x":"independent","y":"independent"}},"hconcat":[
{"spacing":4,"resolve":{"scale":{"x":"independent","y":"independent"}},"hconcat":[
{"width":312,"height":368,"title":{"text":"D","dx":-25,"dy":19},"layer":[
{"data":{"name":"box"},"transform":[{"filter":"datum.p=='D'"}],"mark":{"type":"rule","color":"#111","strokeWidth":2.5},"encoding":{"x":{"field":"g","type":"nominal","scale":{"domain":["H_1","H_2","D_1","D_2"],"paddingInner":0.25,"paddingOuter":0.27},"title":null},"y":{"field":"lo","type":"quantitative","scale":{"domain":[-5225,225560],"nice":false},"title":"Acetic acid","axis":{"values":[0,50000,100000,150000,200000],"format":"d","titleY":-17}},"y2":{"field":"hi"}}},
{"data":{"name":"box"},"transform":[{"filter":"datum.p=='D'"}],"mark":{"type":"bar","stroke":"#222","strokeWidth":1,"width":54.5},"encoding":{"x":{"field":"g","type":"nominal","scale":{"domain":["H_1","H_2","D_1","D_2"],"paddingInner":0.25,"paddingOuter":0.27},"title":null},"y":{"field":"q1","type":"quantitative","scale":{"domain":[-5225,225560],"nice":false},"title":"Acetic acid"},"y2":{"field":"q3"},"color":{"field":"g","type":"nominal","scale":{"domain":["H_1","H_2","D_1","D_2"],"range":["#377eb8","#e41a1c","#4daf4a","#984ea3"]},"legend":null}}},
{"data":{"name":"box"},"transform":[{"filter":"datum.p=='D'"}],"mark":{"type":"tick","color":"#333","thickness":3.5,"size":54},"encoding":{"x":{"field":"g","type":"nominal","scale":{"domain":["H_1","H_2","D_1","D_2"],"paddingInner":0.25,"paddingOuter":0.27},"title":null},"y":{"field":"md","type":"quantitative","scale":{"domain":[-5225,225560],"nice":false},"title":"Acetic acid"}}},
{"data":{"name":"box"},"transform":[{"filter":"datum.p=='D'"},{"fold":["lo","hi"]}],"mark":{"type":"tick","color":"#111","thickness":2.5,"size":34},"encoding":{"x":{"field":"g","type":"nominal","scale":{"domain":["H_1","H_2","D_1","D_2"],"paddingInner":0.25,"paddingOuter":0.27},"title":null},"y":{"field":"value","type":"quantitative","scale":{"domain":[-5225,225560],"nice":false},"title":"Acetic acid"}}},
{"data":{"name":"pts"},"transform":[{"filter":"datum.p=='D'"}],"mark":{"type":"point","filled":true,"color":"#000","opacity":1,"size":42},"encoding":{"x":{"field":"g","type":"nominal","scale":{"domain":["H_1","H_2","D_1","D_2"],"paddingInner":0.25,"paddingOuter":0.27},"title":null},"xOffset":{"field":"i","type":"nominal","scale":{"domain":[1,2,3,4,5,6,7,8,9,10,11]}},"y":{"field":"v","type":"quantitative","scale":{"domain":[-5225,225560],"nice":false},"title":"Acetic acid"},"shape":{"condition":{"test":"datum.o==1","value":"square"},"value":"circle"}}},
{"data":{"name":"br"},"transform":[{"filter":"datum.p=='D'"}],"mark":{"type":"rule","color":"#444","strokeWidth":1.5},"encoding":{"x":{"field":"a","type":"nominal","scale":{"domain":["H_1","H_2","D_1","D_2"],"paddingInner":0.25,"paddingOuter":0.27},"title":null},"x2":{"field":"b"},"y":{"field":"y","type":"quantitative","scale":{"domain":[-5225,225560],"nice":false},"title":"Acetic acid"}}},
{"data":{"name":"br"},"transform":[{"filter":"datum.p=='D'&&datum.cap!==0"},{"fold":["a","b"],"as":["end","grp"]}],"mark":{"type":"tick","orient":"vertical","size":6,"thickness":1.5,"yOffset":3,"color":"#444"},"encoding":{"x":{"field":"grp","type":"nominal","scale":{"domain":["H_1","H_2","D_1","D_2"],"paddingInner":0.25,"paddingOuter":0.27},"title":null},"y":{"field":"y","type":"quantitative","scale":{"domain":[-5225,225560],"nice":false},"title":"Acetic acid"}}},
{"data":{"name":"br"},"transform":[{"filter":"datum.p=='D'&&datum.a=='H_1'&&datum.b=='D_1'"}],"mark":{"type":"text","font":"Liberation Serif","fontSize":17,"color":"#222","baseline":"alphabetic","dy":-2},"encoding":{"x":{"datum":"H_2","type":"nominal","scale":{"domain":["H_1","H_2","D_1","D_2"],"paddingInner":0.25,"paddingOuter":0.27},"title":null},"y":{"field":"y","type":"quantitative","scale":{"domain":[-5225,225560],"nice":false},"title":"Acetic acid"},"text":{"field":"s"}}},
{"data":{"name":"br"},"transform":[{"filter":"datum.p=='D'&&datum.a=='H_2'&&datum.b=='D_2'"}],"mark":{"type":"text","font":"Liberation Serif","fontSize":17,"color":"#222","baseline":"alphabetic","dy":-2},"encoding":{"x":{"datum":"D_1","type":"nominal","scale":{"domain":["H_1","H_2","D_1","D_2"],"paddingInner":0.25,"paddingOuter":0.27},"title":null},"y":{"field":"y","type":"quantitative","scale":{"domain":[-5225,225560],"nice":false},"title":"Acetic acid"},"text":{"field":"s"}}},
{"data":{"name":"br"},"transform":[{"filter":"datum.p=='D'&&((datum.a=='H_1'&&datum.b=='D_2')||(datum.a=='H_2'&&datum.b=='D_1'))"}],"mark":{"type":"text","font":"Liberation Serif","fontSize":17,"color":"#222","baseline":"alphabetic","dy":-2,"dx":36},"encoding":{"x":{"datum":"H_2","type":"nominal","scale":{"domain":["H_1","H_2","D_1","D_2"],"paddingInner":0.25,"paddingOuter":0.27},"title":null},"y":{"field":"y","type":"quantitative","scale":{"domain":[-5225,225560],"nice":false},"title":"Acetic acid"},"text":{"field":"s"}}},
{"data":{"name":"pv"},"transform":[{"filter":"datum.p=='D'"}],"mark":{"type":"text","font":"Liberation Serif","fontSize":31,"fontStyle":"italic","align":"left","baseline":"alphabetic","dx":40,"color":"#111"},"encoding":{"x":{"datum":"H_2","type":"nominal","scale":{"domain":["H_1","H_2","D_1","D_2"],"paddingInner":0.25,"paddingOuter":0.27},"title":null},"y":{"field":"y","type":"quantitative","scale":{"domain":[-5225,225560],"nice":false},"title":"Acetic acid"},"text":{"value":"P"}}},
{"data":{"name":"pv"},"transform":[{"filter":"datum.p=='D'"}],"mark":{"type":"text","font":"Liberation Serif","fontSize":31,"align":"left","baseline":"alphabetic","dx":59,"color":"#111"},"encoding":{"x":{"datum":"H_2","type":"nominal","scale":{"domain":["H_1","H_2","D_1","D_2"],"paddingInner":0.25,"paddingOuter":0.27},"title":null},"y":{"field":"y","type":"quantitative","scale":{"domain":[-5225,225560],"nice":false},"title":"Acetic acid"},"text":{"field":"t"}}}
]},
{"width":312,"height":368,"title":{"text":"E","dx":-24,"dy":9},"layer":[
{"data":{"name":"box"},"transform":[{"filter":"datum.p=='E'"}],"mark":{"type":"rule","color":"#111","strokeWidth":2.5},"encoding":{"x":{"field":"g","type":"nominal","scale":{"domain":["H_1","H_2","D_1","D_2"],"paddingInner":0.25,"paddingOuter":0.27},"title":null},"y":{"field":"lo","type":"quantitative","scale":{"domain":[-1570,56280],"nice":false},"title":"Butyric acid","axis":{"values":[0,10000,20000,30000,40000,50000],"format":"d","titleY":-6}},"y2":{"field":"hi"}}},
{"data":{"name":"box"},"transform":[{"filter":"datum.p=='E'"}],"mark":{"type":"bar","stroke":"#222","strokeWidth":1,"width":54.5},"encoding":{"x":{"field":"g","type":"nominal","scale":{"domain":["H_1","H_2","D_1","D_2"],"paddingInner":0.25,"paddingOuter":0.27},"title":null},"y":{"field":"q1","type":"quantitative","scale":{"domain":[-1570,56280],"nice":false},"title":"Butyric acid"},"y2":{"field":"q3"},"color":{"field":"g","type":"nominal","scale":{"domain":["H_1","H_2","D_1","D_2"],"range":["#377eb8","#e41a1c","#4daf4a","#984ea3"]},"legend":null}}},
{"data":{"name":"box"},"transform":[{"filter":"datum.p=='E'"}],"mark":{"type":"tick","color":"#333","thickness":3.5,"size":54},"encoding":{"x":{"field":"g","type":"nominal","scale":{"domain":["H_1","H_2","D_1","D_2"],"paddingInner":0.25,"paddingOuter":0.27},"title":null},"y":{"field":"md","type":"quantitative","scale":{"domain":[-1570,56280],"nice":false},"title":"Butyric acid"}}},
{"data":{"name":"box"},"transform":[{"filter":"datum.p=='E'"},{"fold":["lo","hi"]}],"mark":{"type":"tick","color":"#111","thickness":2.5,"size":34},"encoding":{"x":{"field":"g","type":"nominal","scale":{"domain":["H_1","H_2","D_1","D_2"],"paddingInner":0.25,"paddingOuter":0.27},"title":null},"y":{"field":"value","type":"quantitative","scale":{"domain":[-1570,56280],"nice":false},"title":"Butyric acid"}}},
{"data":{"name":"pts"},"transform":[{"filter":"datum.p=='E'"}],"mark":{"type":"point","filled":true,"color":"#000","opacity":1,"size":42},"encoding":{"x":{"field":"g","type":"nominal","scale":{"domain":["H_1","H_2","D_1","D_2"],"paddingInner":0.25,"paddingOuter":0.27},"title":null},"xOffset":{"field":"i","type":"nominal","scale":{"domain":[1,2,3,4,5,6,7,8,9,10,11]}},"y":{"field":"v","type":"quantitative","scale":{"domain":[-1570,56280],"nice":false},"title":"Butyric acid"},"shape":{"condition":{"test":"datum.o==1","value":"square"},"value":"circle"}}},
{"data":{"name":"br"},"transform":[{"filter":"datum.p=='E'"}],"mark":{"type":"rule","color":"#444","strokeWidth":1.5},"encoding":{"x":{"field":"a","type":"nominal","scale":{"domain":["H_1","H_2","D_1","D_2"],"paddingInner":0.25,"paddingOuter":0.27},"title":null},"x2":{"field":"b"},"y":{"field":"y","type":"quantitative","scale":{"domain":[-1570,56280],"nice":false},"title":"Butyric acid"}}},
{"data":{"name":"br"},"transform":[{"filter":"datum.p=='E'&&datum.cap!==0"},{"fold":["a","b"],"as":["end","grp"]}],"mark":{"type":"tick","orient":"vertical","size":6,"thickness":1.5,"yOffset":3,"color":"#444"},"encoding":{"x":{"field":"grp","type":"nominal","scale":{"domain":["H_1","H_2","D_1","D_2"],"paddingInner":0.25,"paddingOuter":0.27},"title":null},"y":{"field":"y","type":"quantitative","scale":{"domain":[-1570,56280],"nice":false},"title":"Butyric acid"}}},
{"data":{"name":"br"},"transform":[{"filter":"datum.p=='E'&&datum.a=='H_1'&&datum.b=='D_1'"}],"mark":{"type":"text","font":"Liberation Serif","fontSize":17,"color":"#222","baseline":"alphabetic","dy":-2},"encoding":{"x":{"datum":"H_2","type":"nominal","scale":{"domain":["H_1","H_2","D_1","D_2"],"paddingInner":0.25,"paddingOuter":0.27},"title":null},"y":{"field":"y","type":"quantitative","scale":{"domain":[-1570,56280],"nice":false},"title":"Butyric acid"},"text":{"field":"s"}}},
{"data":{"name":"br"},"transform":[{"filter":"datum.p=='E'&&datum.a=='H_2'&&datum.b=='D_2'"}],"mark":{"type":"text","font":"Liberation Serif","fontSize":17,"color":"#222","baseline":"alphabetic","dy":-2},"encoding":{"x":{"datum":"D_1","type":"nominal","scale":{"domain":["H_1","H_2","D_1","D_2"],"paddingInner":0.25,"paddingOuter":0.27},"title":null},"y":{"field":"y","type":"quantitative","scale":{"domain":[-1570,56280],"nice":false},"title":"Butyric acid"},"text":{"field":"s"}}},
{"data":{"name":"br"},"transform":[{"filter":"datum.p=='E'&&((datum.a=='H_1'&&datum.b=='D_2')||(datum.a=='H_2'&&datum.b=='D_1'))"}],"mark":{"type":"text","font":"Liberation Serif","fontSize":17,"color":"#222","baseline":"alphabetic","dy":-2,"dx":36},"encoding":{"x":{"datum":"H_2","type":"nominal","scale":{"domain":["H_1","H_2","D_1","D_2"],"paddingInner":0.25,"paddingOuter":0.27},"title":null},"y":{"field":"y","type":"quantitative","scale":{"domain":[-1570,56280],"nice":false},"title":"Butyric acid"},"text":{"field":"s"}}},
{"data":{"name":"pv"},"transform":[{"filter":"datum.p=='E'"}],"mark":{"type":"text","font":"Liberation Serif","fontSize":31,"fontStyle":"italic","align":"left","baseline":"alphabetic","dx":42,"color":"#111"},"encoding":{"x":{"datum":"H_2","type":"nominal","scale":{"domain":["H_1","H_2","D_1","D_2"],"paddingInner":0.25,"paddingOuter":0.27},"title":null},"y":{"field":"y","type":"quantitative","scale":{"domain":[-1570,56280],"nice":false},"title":"Butyric acid"},"text":{"value":"P"}}},
{"data":{"name":"pv"},"transform":[{"filter":"datum.p=='E'"}],"mark":{"type":"text","font":"Liberation Serif","fontSize":31,"align":"left","baseline":"alphabetic","dx":61,"color":"#111"},"encoding":{"x":{"datum":"H_2","type":"nominal","scale":{"domain":["H_1","H_2","D_1","D_2"],"paddingInner":0.25,"paddingOuter":0.27},"title":null},"y":{"field":"y","type":"quantitative","scale":{"domain":[-1570,56280],"nice":false},"title":"Butyric acid"},"text":{"field":"t"}}}
]}
]},
{"width":312,"height":368,"title":{"text":"F","dx":4,"dy":17},"layer":[
{"data":{"name":"box"},"transform":[{"filter":"datum.p=='F'"}],"mark":{"type":"rule","color":"#111","strokeWidth":2.5},"encoding":{"x":{"field":"g","type":"nominal","scale":{"domain":["H_1","H_2","D_1","D_2"],"paddingInner":0.25,"paddingOuter":0.27},"title":null},"y":{"field":"lo","type":"quantitative","scale":{"domain":[-138,2213],"nice":false},"title":"Isovaleric acid","axis":{"values":[0,500,1000,1500,2000],"format":"d","titleY":-14}},"y2":{"field":"hi"}}},
{"data":{"name":"box"},"transform":[{"filter":"datum.p=='F'"}],"mark":{"type":"bar","stroke":"#222","strokeWidth":1,"width":54.5},"encoding":{"x":{"field":"g","type":"nominal","scale":{"domain":["H_1","H_2","D_1","D_2"],"paddingInner":0.25,"paddingOuter":0.27},"title":null},"y":{"field":"q1","type":"quantitative","scale":{"domain":[-138,2213],"nice":false},"title":"Isovaleric acid"},"y2":{"field":"q3"},"color":{"field":"g","type":"nominal","scale":{"domain":["H_1","H_2","D_1","D_2"],"range":["#377eb8","#e41a1c","#4daf4a","#984ea3"]},"legend":null}}},
{"data":{"name":"box"},"transform":[{"filter":"datum.p=='F'"}],"mark":{"type":"tick","color":"#333","thickness":3.5,"size":54},"encoding":{"x":{"field":"g","type":"nominal","scale":{"domain":["H_1","H_2","D_1","D_2"],"paddingInner":0.25,"paddingOuter":0.27},"title":null},"y":{"field":"md","type":"quantitative","scale":{"domain":[-138,2213],"nice":false},"title":"Isovaleric acid"}}},
{"data":{"name":"box"},"transform":[{"filter":"datum.p=='F'"},{"fold":["lo","hi"]}],"mark":{"type":"tick","color":"#111","thickness":2.5,"size":34},"encoding":{"x":{"field":"g","type":"nominal","scale":{"domain":["H_1","H_2","D_1","D_2"],"paddingInner":0.25,"paddingOuter":0.27},"title":null},"y":{"field":"value","type":"quantitative","scale":{"domain":[-138,2213],"nice":false},"title":"Isovaleric acid"}}},
{"data":{"name":"pts"},"transform":[{"filter":"datum.p=='F'"}],"mark":{"type":"point","filled":true,"color":"#000","opacity":1,"size":42},"encoding":{"x":{"field":"g","type":"nominal","scale":{"domain":["H_1","H_2","D_1","D_2"],"paddingInner":0.25,"paddingOuter":0.27},"title":null},"xOffset":{"field":"i","type":"nominal","scale":{"domain":[1,2,3,4,5,6,7,8,9,10,11]}},"y":{"field":"v","type":"quantitative","scale":{"domain":[-138,2213],"nice":false},"title":"Isovaleric acid"},"shape":{"condition":{"test":"datum.o==1","value":"square"},"value":"circle"}}},
{"data":{"name":"br"},"transform":[{"filter":"datum.p=='F'"}],"mark":{"type":"rule","color":"#444","strokeWidth":1.5},"encoding":{"x":{"field":"a","type":"nominal","scale":{"domain":["H_1","H_2","D_1","D_2"],"paddingInner":0.25,"paddingOuter":0.27},"title":null},"x2":{"field":"b"},"y":{"field":"y","type":"quantitative","scale":{"domain":[-138,2213],"nice":false},"title":"Isovaleric acid"}}},
{"data":{"name":"br"},"transform":[{"filter":"datum.p=='F'&&datum.cap!==0"},{"fold":["a","b"],"as":["end","grp"]}],"mark":{"type":"tick","orient":"vertical","size":6,"thickness":1.5,"yOffset":3,"color":"#444"},"encoding":{"x":{"field":"grp","type":"nominal","scale":{"domain":["H_1","H_2","D_1","D_2"],"paddingInner":0.25,"paddingOuter":0.27},"title":null},"y":{"field":"y","type":"quantitative","scale":{"domain":[-138,2213],"nice":false},"title":"Isovaleric acid"}}},
{"data":{"name":"br"},"transform":[{"filter":"datum.p=='F'&&datum.a=='H_1'&&datum.b=='D_1'"}],"mark":{"type":"text","font":"Liberation Serif","fontSize":17,"color":"#222","baseline":"alphabetic","dy":-2},"encoding":{"x":{"datum":"H_2","type":"nominal","scale":{"domain":["H_1","H_2","D_1","D_2"],"paddingInner":0.25,"paddingOuter":0.27},"title":null},"y":{"field":"y","type":"quantitative","scale":{"domain":[-138,2213],"nice":false},"title":"Isovaleric acid"},"text":{"field":"s"}}},
{"data":{"name":"br"},"transform":[{"filter":"datum.p=='F'&&datum.a=='H_2'&&datum.b=='D_2'"}],"mark":{"type":"text","font":"Liberation Serif","fontSize":17,"color":"#222","baseline":"alphabetic","dy":-2},"encoding":{"x":{"datum":"D_1","type":"nominal","scale":{"domain":["H_1","H_2","D_1","D_2"],"paddingInner":0.25,"paddingOuter":0.27},"title":null},"y":{"field":"y","type":"quantitative","scale":{"domain":[-138,2213],"nice":false},"title":"Isovaleric acid"},"text":{"field":"s"}}},
{"data":{"name":"br"},"transform":[{"filter":"datum.p=='F'&&((datum.a=='H_1'&&datum.b=='D_2')||(datum.a=='H_2'&&datum.b=='D_1'))"}],"mark":{"type":"text","font":"Liberation Serif","fontSize":17,"color":"#222","baseline":"alphabetic","dy":-2,"dx":36},"encoding":{"x":{"datum":"H_2","type":"nominal","scale":{"domain":["H_1","H_2","D_1","D_2"],"paddingInner":0.25,"paddingOuter":0.27},"title":null},"y":{"field":"y","type":"quantitative","scale":{"domain":[-138,2213],"nice":false},"title":"Isovaleric acid"},"text":{"field":"s"}}},
{"data":{"name":"pv"},"transform":[{"filter":"datum.p=='F'"}],"mark":{"type":"text","font":"Liberation Serif","fontSize":31,"fontStyle":"italic","align":"left","baseline":"alphabetic","dx":37,"color":"#111"},"encoding":{"x":{"datum":"H_2","type":"nominal","scale":{"domain":["H_1","H_2","D_1","D_2"],"paddingInner":0.25,"paddingOuter":0.27},"title":null},"y":{"field":"y","type":"quantitative","scale":{"domain":[-138,2213],"nice":false},"title":"Isovaleric acid"},"text":{"value":"P"}}},
{"data":{"name":"pv"},"transform":[{"filter":"datum.p=='F'"}],"mark":{"type":"text","font":"Liberation Serif","fontSize":31,"align":"left","baseline":"alphabetic","dx":56,"color":"#111"},"encoding":{"x":{"datum":"H_2","type":"nominal","scale":{"domain":["H_1","H_2","D_1","D_2"],"paddingInner":0.25,"paddingOuter":0.27},"title":null},"y":{"field":"y","type":"quantitative","scale":{"domain":[-138,2213],"nice":false},"title":"Isovaleric acid"},"text":{"field":"t"}}}
]}
]}
]},
{"spacing":25,"resolve":{"scale":{"x":"independent","y":"independent"}},"hconcat":[
{"spacing":4,"resolve":{"scale":{"x":"independent","y":"independent"}},"hconcat":[
{"width":312,"height":368,"title":{"text":"G","dx":-40,"dy":1},"layer":[
{"data":{"name":"box"},"transform":[{"filter":"datum.p=='G'"}],"mark":{"type":"rule","color":"#111","strokeWidth":2.5},"encoding":{"x":{"field":"g","type":"nominal","scale":{"domain":["H_1","H_2","D_1","D_2"],"paddingInner":0.25,"paddingOuter":0.27},"title":null},"y":{"field":"lo","type":"quantitative","scale":{"domain":[-2750,98570],"nice":false},"title":"Lactic acid","axis":{"values":[0,25000,50000,75000],"format":"d","titleY":-14}},"y2":{"field":"hi"}}},
{"data":{"name":"box"},"transform":[{"filter":"datum.p=='G'"}],"mark":{"type":"bar","stroke":"#222","strokeWidth":1,"width":54.5},"encoding":{"x":{"field":"g","type":"nominal","scale":{"domain":["H_1","H_2","D_1","D_2"],"paddingInner":0.25,"paddingOuter":0.27},"title":null},"y":{"field":"q1","type":"quantitative","scale":{"domain":[-2750,98570],"nice":false},"title":"Lactic acid"},"y2":{"field":"q3"},"color":{"field":"g","type":"nominal","scale":{"domain":["H_1","H_2","D_1","D_2"],"range":["#377eb8","#e41a1c","#4daf4a","#984ea3"]},"legend":null}}},
{"data":{"name":"box"},"transform":[{"filter":"datum.p=='G'"}],"mark":{"type":"tick","color":"#333","thickness":3.5,"size":54},"encoding":{"x":{"field":"g","type":"nominal","scale":{"domain":["H_1","H_2","D_1","D_2"],"paddingInner":0.25,"paddingOuter":0.27},"title":null},"y":{"field":"md","type":"quantitative","scale":{"domain":[-2750,98570],"nice":false},"title":"Lactic acid"}}},
{"data":{"name":"box"},"transform":[{"filter":"datum.p=='G'"},{"fold":["lo","hi"]}],"mark":{"type":"tick","color":"#111","thickness":2.5,"size":34},"encoding":{"x":{"field":"g","type":"nominal","scale":{"domain":["H_1","H_2","D_1","D_2"],"paddingInner":0.25,"paddingOuter":0.27},"title":null},"y":{"field":"value","type":"quantitative","scale":{"domain":[-2750,98570],"nice":false},"title":"Lactic acid"}}},
{"data":{"name":"pts"},"transform":[{"filter":"datum.p=='G'"}],"mark":{"type":"point","filled":true,"color":"#000","opacity":1,"size":42},"encoding":{"x":{"field":"g","type":"nominal","scale":{"domain":["H_1","H_2","D_1","D_2"],"paddingInner":0.25,"paddingOuter":0.27},"title":null},"xOffset":{"field":"i","type":"nominal","scale":{"domain":[1,2,3,4,5,6,7,8,9,10,11]}},"y":{"field":"v","type":"quantitative","scale":{"domain":[-2750,98570],"nice":false},"title":"Lactic acid"},"shape":{"condition":{"test":"datum.o==1","value":"square"},"value":"circle"}}},
{"data":{"name":"br"},"transform":[{"filter":"datum.p=='G'"}],"mark":{"type":"rule","color":"#444","strokeWidth":1.5},"encoding":{"x":{"field":"a","type":"nominal","scale":{"domain":["H_1","H_2","D_1","D_2"],"paddingInner":0.25,"paddingOuter":0.27},"title":null},"x2":{"field":"b"},"y":{"field":"y","type":"quantitative","scale":{"domain":[-2750,98570],"nice":false},"title":"Lactic acid"}}},
{"data":{"name":"br"},"transform":[{"filter":"datum.p=='G'&&datum.cap!==0"},{"fold":["a","b"],"as":["end","grp"]}],"mark":{"type":"tick","orient":"vertical","size":6,"thickness":1.5,"yOffset":3,"color":"#444"},"encoding":{"x":{"field":"grp","type":"nominal","scale":{"domain":["H_1","H_2","D_1","D_2"],"paddingInner":0.25,"paddingOuter":0.27},"title":null},"y":{"field":"y","type":"quantitative","scale":{"domain":[-2750,98570],"nice":false},"title":"Lactic acid"}}},
{"data":{"name":"br"},"transform":[{"filter":"datum.p=='G'&&datum.a=='H_1'&&datum.b=='D_1'"}],"mark":{"type":"text","font":"Liberation Serif","fontSize":17,"color":"#222","baseline":"alphabetic","dy":-2},"encoding":{"x":{"datum":"H_2","type":"nominal","scale":{"domain":["H_1","H_2","D_1","D_2"],"paddingInner":0.25,"paddingOuter":0.27},"title":null},"y":{"field":"y","type":"quantitative","scale":{"domain":[-2750,98570],"nice":false},"title":"Lactic acid"},"text":{"field":"s"}}},
{"data":{"name":"br"},"transform":[{"filter":"datum.p=='G'&&datum.a=='H_2'&&datum.b=='D_2'"}],"mark":{"type":"text","font":"Liberation Serif","fontSize":17,"color":"#222","baseline":"alphabetic","dy":-2},"encoding":{"x":{"datum":"D_1","type":"nominal","scale":{"domain":["H_1","H_2","D_1","D_2"],"paddingInner":0.25,"paddingOuter":0.27},"title":null},"y":{"field":"y","type":"quantitative","scale":{"domain":[-2750,98570],"nice":false},"title":"Lactic acid"},"text":{"field":"s"}}},
{"data":{"name":"br"},"transform":[{"filter":"datum.p=='G'&&((datum.a=='H_1'&&datum.b=='D_2')||(datum.a=='H_2'&&datum.b=='D_1'))"}],"mark":{"type":"text","font":"Liberation Serif","fontSize":17,"color":"#222","baseline":"alphabetic","dy":-2,"dx":36},"encoding":{"x":{"datum":"H_2","type":"nominal","scale":{"domain":["H_1","H_2","D_1","D_2"],"paddingInner":0.25,"paddingOuter":0.27},"title":null},"y":{"field":"y","type":"quantitative","scale":{"domain":[-2750,98570],"nice":false},"title":"Lactic acid"},"text":{"field":"s"}}},
{"data":{"name":"pv"},"transform":[{"filter":"datum.p=='G'"}],"mark":{"type":"text","font":"Liberation Serif","fontSize":31,"fontStyle":"italic","align":"left","baseline":"alphabetic","dx":45,"color":"#111"},"encoding":{"x":{"datum":"H_2","type":"nominal","scale":{"domain":["H_1","H_2","D_1","D_2"],"paddingInner":0.25,"paddingOuter":0.27},"title":null},"y":{"field":"y","type":"quantitative","scale":{"domain":[-2750,98570],"nice":false},"title":"Lactic acid"},"text":{"value":"P"}}},
{"data":{"name":"pv"},"transform":[{"filter":"datum.p=='G'"}],"mark":{"type":"text","font":"Liberation Serif","fontSize":31,"align":"left","baseline":"alphabetic","dx":64,"color":"#111"},"encoding":{"x":{"datum":"H_2","type":"nominal","scale":{"domain":["H_1","H_2","D_1","D_2"],"paddingInner":0.25,"paddingOuter":0.27},"title":null},"y":{"field":"y","type":"quantitative","scale":{"domain":[-2750,98570],"nice":false},"title":"Lactic acid"},"text":{"field":"t"}}}
]},
{"width":312,"height":368,"title":{"text":"H","dx":-30,"dy":8},"layer":[
{"data":{"name":"box"},"transform":[{"filter":"datum.p=='H'"}],"mark":{"type":"rule","color":"#111","strokeWidth":2.5},"encoding":{"x":{"field":"g","type":"nominal","scale":{"domain":["H_1","H_2","D_1","D_2"],"paddingInner":0.25,"paddingOuter":0.27},"title":null},"y":{"field":"lo","type":"quantitative","scale":{"domain":[-139,3904],"nice":false},"title":"Hippuric acid","axis":{"values":[0,1000,2000,3000],"format":"d","titleY":-20}},"y2":{"field":"hi"}}},
{"data":{"name":"box"},"transform":[{"filter":"datum.p=='H'"}],"mark":{"type":"bar","stroke":"#222","strokeWidth":1,"width":54.5},"encoding":{"x":{"field":"g","type":"nominal","scale":{"domain":["H_1","H_2","D_1","D_2"],"paddingInner":0.25,"paddingOuter":0.27},"title":null},"y":{"field":"q1","type":"quantitative","scale":{"domain":[-139,3904],"nice":false},"title":"Hippuric acid"},"y2":{"field":"q3"},"color":{"field":"g","type":"nominal","scale":{"domain":["H_1","H_2","D_1","D_2"],"range":["#377eb8","#e41a1c","#4daf4a","#984ea3"]},"legend":null}}},
{"data":{"name":"box"},"transform":[{"filter":"datum.p=='H'"}],"mark":{"type":"tick","color":"#333","thickness":3.5,"size":54},"encoding":{"x":{"field":"g","type":"nominal","scale":{"domain":["H_1","H_2","D_1","D_2"],"paddingInner":0.25,"paddingOuter":0.27},"title":null},"y":{"field":"md","type":"quantitative","scale":{"domain":[-139,3904],"nice":false},"title":"Hippuric acid"}}},
{"data":{"name":"box"},"transform":[{"filter":"datum.p=='H'"},{"fold":["lo","hi"]}],"mark":{"type":"tick","color":"#111","thickness":2.5,"size":34},"encoding":{"x":{"field":"g","type":"nominal","scale":{"domain":["H_1","H_2","D_1","D_2"],"paddingInner":0.25,"paddingOuter":0.27},"title":null},"y":{"field":"value","type":"quantitative","scale":{"domain":[-139,3904],"nice":false},"title":"Hippuric acid"}}},
{"data":{"name":"pts"},"transform":[{"filter":"datum.p=='H'"}],"mark":{"type":"point","filled":true,"color":"#000","opacity":1,"size":42},"encoding":{"x":{"field":"g","type":"nominal","scale":{"domain":["H_1","H_2","D_1","D_2"],"paddingInner":0.25,"paddingOuter":0.27},"title":null},"xOffset":{"field":"i","type":"nominal","scale":{"domain":[1,2,3,4,5,6,7,8,9,10,11]}},"y":{"field":"v","type":"quantitative","scale":{"domain":[-139,3904],"nice":false},"title":"Hippuric acid"},"shape":{"condition":{"test":"datum.o==1","value":"square"},"value":"circle"}}},
{"data":{"name":"br"},"transform":[{"filter":"datum.p=='H'"}],"mark":{"type":"rule","color":"#444","strokeWidth":1.5},"encoding":{"x":{"field":"a","type":"nominal","scale":{"domain":["H_1","H_2","D_1","D_2"],"paddingInner":0.25,"paddingOuter":0.27},"title":null},"x2":{"field":"b"},"y":{"field":"y","type":"quantitative","scale":{"domain":[-139,3904],"nice":false},"title":"Hippuric acid"}}},
{"data":{"name":"br"},"transform":[{"filter":"datum.p=='H'&&datum.cap!==0"},{"fold":["a","b"],"as":["end","grp"]}],"mark":{"type":"tick","orient":"vertical","size":6,"thickness":1.5,"yOffset":3,"color":"#444"},"encoding":{"x":{"field":"grp","type":"nominal","scale":{"domain":["H_1","H_2","D_1","D_2"],"paddingInner":0.25,"paddingOuter":0.27},"title":null},"y":{"field":"y","type":"quantitative","scale":{"domain":[-139,3904],"nice":false},"title":"Hippuric acid"}}},
{"data":{"name":"br"},"transform":[{"filter":"datum.p=='H'&&datum.a=='H_1'&&datum.b=='D_1'"}],"mark":{"type":"text","font":"Liberation Serif","fontSize":17,"color":"#222","baseline":"alphabetic","dy":-2},"encoding":{"x":{"datum":"H_2","type":"nominal","scale":{"domain":["H_1","H_2","D_1","D_2"],"paddingInner":0.25,"paddingOuter":0.27},"title":null},"y":{"field":"y","type":"quantitative","scale":{"domain":[-139,3904],"nice":false},"title":"Hippuric acid"},"text":{"field":"s"}}},
{"data":{"name":"br"},"transform":[{"filter":"datum.p=='H'&&datum.a=='H_2'&&datum.b=='D_2'"}],"mark":{"type":"text","font":"Liberation Serif","fontSize":17,"color":"#222","baseline":"alphabetic","dy":-2},"encoding":{"x":{"datum":"D_1","type":"nominal","scale":{"domain":["H_1","H_2","D_1","D_2"],"paddingInner":0.25,"paddingOuter":0.27},"title":null},"y":{"field":"y","type":"quantitative","scale":{"domain":[-139,3904],"nice":false},"title":"Hippuric acid"},"text":{"field":"s"}}},
{"data":{"name":"br"},"transform":[{"filter":"datum.p=='H'&&((datum.a=='H_1'&&datum.b=='D_2')||(datum.a=='H_2'&&datum.b=='D_1'))"}],"mark":{"type":"text","font":"Liberation Serif","fontSize":17,"color":"#222","baseline":"alphabetic","dy":-2,"dx":36},"encoding":{"x":{"datum":"H_2","type":"nominal","scale":{"domain":["H_1","H_2","D_1","D_2"],"paddingInner":0.25,"paddingOuter":0.27},"title":null},"y":{"field":"y","type":"quantitative","scale":{"domain":[-139,3904],"nice":false},"title":"Hippuric acid"},"text":{"field":"s"}}},
{"data":{"name":"pv"},"transform":[{"filter":"datum.p=='H'"}],"mark":{"type":"text","font":"Liberation Serif","fontSize":31,"fontStyle":"italic","align":"left","baseline":"alphabetic","dx":37,"color":"#111"},"encoding":{"x":{"datum":"H_2","type":"nominal","scale":{"domain":["H_1","H_2","D_1","D_2"],"paddingInner":0.25,"paddingOuter":0.27},"title":null},"y":{"field":"y","type":"quantitative","scale":{"domain":[-139,3904],"nice":false},"title":"Hippuric acid"},"text":{"value":"P"}}},
{"data":{"name":"pv"},"transform":[{"filter":"datum.p=='H'"}],"mark":{"type":"text","font":"Liberation Serif","fontSize":31,"align":"left","baseline":"alphabetic","dx":56,"color":"#111"},"encoding":{"x":{"datum":"H_2","type":"nominal","scale":{"domain":["H_1","H_2","D_1","D_2"],"paddingInner":0.25,"paddingOuter":0.27},"title":null},"y":{"field":"y","type":"quantitative","scale":{"domain":[-139,3904],"nice":false},"title":"Hippuric acid"},"text":{"field":"t"}}}
]}
]},
{"width":312,"height":368,"title":{"text":"I","dx":2,"dy":9},"layer":[
{"data":{"name":"box"},"transform":[{"filter":"datum.p=='I'"}],"mark":{"type":"rule","color":"#111","strokeWidth":2.5},"encoding":{"x":{"field":"g","type":"nominal","scale":{"domain":["H_1","H_2","D_1","D_2"],"paddingInner":0.25,"paddingOuter":0.27},"title":null},"y":{"field":"lo","type":"quantitative","scale":{"domain":[-347,13178],"nice":false},"title":"α-Linolenic acid","axis":{"values":[0,2500,5000,7500,10000,12500],"format":"d","titleY":-20}},"y2":{"field":"hi"}}},
{"data":{"name":"box"},"transform":[{"filter":"datum.p=='I'"}],"mark":{"type":"bar","stroke":"#222","strokeWidth":1,"width":54.5},"encoding":{"x":{"field":"g","type":"nominal","scale":{"domain":["H_1","H_2","D_1","D_2"],"paddingInner":0.25,"paddingOuter":0.27},"title":null},"y":{"field":"q1","type":"quantitative","scale":{"domain":[-347,13178],"nice":false},"title":"α-Linolenic acid"},"y2":{"field":"q3"},"color":{"field":"g","type":"nominal","scale":{"domain":["H_1","H_2","D_1","D_2"],"range":["#377eb8","#e41a1c","#4daf4a","#984ea3"]},"legend":null}}},
{"data":{"name":"box"},"transform":[{"filter":"datum.p=='I'"}],"mark":{"type":"tick","color":"#333","thickness":3.5,"size":54},"encoding":{"x":{"field":"g","type":"nominal","scale":{"domain":["H_1","H_2","D_1","D_2"],"paddingInner":0.25,"paddingOuter":0.27},"title":null},"y":{"field":"md","type":"quantitative","scale":{"domain":[-347,13178],"nice":false},"title":"α-Linolenic acid"}}},
{"data":{"name":"box"},"transform":[{"filter":"datum.p=='I'"},{"fold":["lo","hi"]}],"mark":{"type":"tick","color":"#111","thickness":2.5,"size":34},"encoding":{"x":{"field":"g","type":"nominal","scale":{"domain":["H_1","H_2","D_1","D_2"],"paddingInner":0.25,"paddingOuter":0.27},"title":null},"y":{"field":"value","type":"quantitative","scale":{"domain":[-347,13178],"nice":false},"title":"α-Linolenic acid"}}},
{"data":{"name":"pts"},"transform":[{"filter":"datum.p=='I'"}],"mark":{"type":"point","filled":true,"color":"#000","opacity":1,"size":42},"encoding":{"x":{"field":"g","type":"nominal","scale":{"domain":["H_1","H_2","D_1","D_2"],"paddingInner":0.25,"paddingOuter":0.27},"title":null},"xOffset":{"field":"i","type":"nominal","scale":{"domain":[1,2,3,4,5,6,7,8,9,10,11]}},"y":{"field":"v","type":"quantitative","scale":{"domain":[-347,13178],"nice":false},"title":"α-Linolenic acid"},"shape":{"condition":{"test":"datum.o==1","value":"square"},"value":"circle"}}},
{"data":{"name":"br"},"transform":[{"filter":"datum.p=='I'"}],"mark":{"type":"rule","color":"#444","strokeWidth":1.5},"encoding":{"x":{"field":"a","type":"nominal","scale":{"domain":["H_1","H_2","D_1","D_2"],"paddingInner":0.25,"paddingOuter":0.27},"title":null},"x2":{"field":"b"},"y":{"field":"y","type":"quantitative","scale":{"domain":[-347,13178],"nice":false},"title":"α-Linolenic acid"}}},
{"data":{"name":"br"},"transform":[{"filter":"datum.p=='I'&&datum.cap!==0"},{"fold":["a","b"],"as":["end","grp"]}],"mark":{"type":"tick","orient":"vertical","size":6,"thickness":1.5,"yOffset":3,"color":"#444"},"encoding":{"x":{"field":"grp","type":"nominal","scale":{"domain":["H_1","H_2","D_1","D_2"],"paddingInner":0.25,"paddingOuter":0.27},"title":null},"y":{"field":"y","type":"quantitative","scale":{"domain":[-347,13178],"nice":false},"title":"α-Linolenic acid"}}},
{"data":{"name":"br"},"transform":[{"filter":"datum.p=='I'&&datum.a=='H_1'&&datum.b=='D_1'"}],"mark":{"type":"text","font":"Liberation Serif","fontSize":17,"color":"#222","baseline":"alphabetic","dy":-2},"encoding":{"x":{"datum":"H_2","type":"nominal","scale":{"domain":["H_1","H_2","D_1","D_2"],"paddingInner":0.25,"paddingOuter":0.27},"title":null},"y":{"field":"y","type":"quantitative","scale":{"domain":[-347,13178],"nice":false},"title":"α-Linolenic acid"},"text":{"field":"s"}}},
{"data":{"name":"br"},"transform":[{"filter":"datum.p=='I'&&datum.a=='H_2'&&datum.b=='D_2'"}],"mark":{"type":"text","font":"Liberation Serif","fontSize":17,"color":"#222","baseline":"alphabetic","dy":-2},"encoding":{"x":{"datum":"D_1","type":"nominal","scale":{"domain":["H_1","H_2","D_1","D_2"],"paddingInner":0.25,"paddingOuter":0.27},"title":null},"y":{"field":"y","type":"quantitative","scale":{"domain":[-347,13178],"nice":false},"title":"α-Linolenic acid"},"text":{"field":"s"}}},
{"data":{"name":"br"},"transform":[{"filter":"datum.p=='I'&&((datum.a=='H_1'&&datum.b=='D_2')||(datum.a=='H_2'&&datum.b=='D_1'))"}],"mark":{"type":"text","font":"Liberation Serif","fontSize":17,"color":"#222","baseline":"alphabetic","dy":-2,"dx":36},"encoding":{"x":{"datum":"H_2","type":"nominal","scale":{"domain":["H_1","H_2","D_1","D_2"],"paddingInner":0.25,"paddingOuter":0.27},"title":null},"y":{"field":"y","type":"quantitative","scale":{"domain":[-347,13178],"nice":false},"title":"α-Linolenic acid"},"text":{"field":"s"}}},
{"data":{"name":"pv"},"transform":[{"filter":"datum.p=='I'"}],"mark":{"type":"text","font":"Liberation Serif","fontSize":31,"fontStyle":"italic","align":"left","baseline":"alphabetic","dx":29,"color":"#111"},"encoding":{"x":{"datum":"H_2","type":"nominal","scale":{"domain":["H_1","H_2","D_1","D_2"],"paddingInner":0.25,"paddingOuter":0.27},"title":null},"y":{"field":"y","type":"quantitative","scale":{"domain":[-347,13178],"nice":false},"title":"α-Linolenic acid"},"text":{"value":"P"}}},
{"data":{"name":"pv"},"transform":[{"filter":"datum.p=='I'"}],"mark":{"type":"text","font":"Liberation Serif","fontSize":31,"align":"left","baseline":"alphabetic","dx":48,"color":"#111"},"encoding":{"x":{"datum":"H_2","type":"nominal","scale":{"domain":["H_1","H_2","D_1","D_2"],"paddingInner":0.25,"paddingOuter":0.27},"title":null},"y":{"field":"y","type":"quantitative","scale":{"domain":[-347,13178],"nice":false},"title":"α-Linolenic acid"},"text":{"field":"t"}}}
]}
]}
],
"config":{
"view":{"stroke":"#222","strokeWidth":1.5},
"axis":{"grid":false,"domain":false,"labelFont":"Liberation Serif","labelFontSize":29,"labelColor":"#111","titleFont":"Liberation Serif","titleFontSize":29,"titleFontWeight":"normal","titleColor":"#111"},
"axisY":{"ticks":false,"tickSize":0,"labelPadding":5,"titleAngle":0,"titleAlign":"center","titleBaseline":"alphabetic","titleX":156},
"axisX":{"ticks":true,"tickSize":3,"tickColor":"#999","labelPadding":2,"labelAngle":0},
"title":{"font":"Liberation Sans","fontSize":17,"fontWeight":"bold","anchor":"start","baseline":"alphabetic","offset":0,"color":"#111","frame":"bounds"}
}
}
